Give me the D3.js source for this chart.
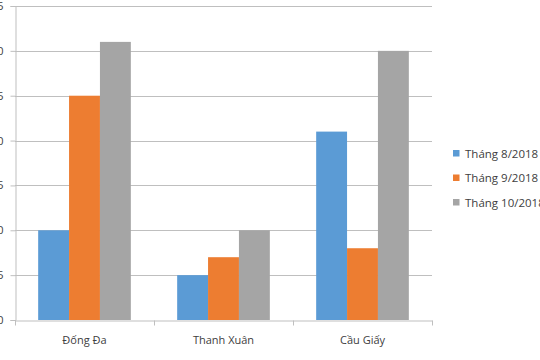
<!DOCTYPE html>
<html>
<head>
<meta charset="utf-8">
<script src="https://cdn.jsdelivr.net/npm/d3@7"></script>
<style>
html,body{margin:0;padding:0;background:#fff;}
svg{display:block;}
text{font-family:"Open Sans",sans-serif;fill:#404040;}
</style>
</head>
<body>
<svg id="chart" width="540" height="360"></svg>
<script>
const categories = ["Đống Đa", "Thanh Xuân", "Cầu Giấy"];
const seriesNames = ["Tháng 8/2018", "Tháng 9/2018", "Tháng 10/2018"];
const thang8 = [10, 5, 21];
const thang9 = [25, 7, 8];
const thang10 = [31, 10, 30];
const yTicks = [0, 5, 10, 15, 20, 25, 30, 35];
const colors = ["#5b9bd5", "#ed7d31", "#a5a5a5"];

const seriesValues = [thang8, thang9, thang10];
const svg = d3.select("#chart");
const mLeft = 15, mRight = 432, mTop = 6, mBottom = 320;

const x = d3.scaleBand().domain(categories).range([mLeft, mRight]).paddingInner(0).paddingOuter(0);
const xs = d3.scaleBand().domain(seriesNames).range([0, x.bandwidth()]).paddingInner(0).paddingOuter(0.75);
const y = d3.scaleLinear().domain([0, 35]).range([mBottom, mTop]);

// gridlines
svg.append("g").selectAll("line").data(yTicks.filter(d => d > 0)).join("line")
  .attr("x1", mLeft).attr("x2", mRight)
  .attr("y1", d => Math.round(y(d)) + 0.5).attr("y2", d => Math.round(y(d)) + 0.5)
  .attr("stroke", "#bfbfbf").attr("stroke-width", 1);

// y axis
const yAxis = d3.axisLeft(y).tickValues(yTicks).tickSize(5).tickPadding(7);
const gy = svg.append("g").attr("transform", `translate(${mLeft + 0.5},0)`).call(yAxis);
gy.select(".domain").attr("stroke", "#bfbfbf");
gy.selectAll(".tick line").attr("stroke", "#bfbfbf");
gy.selectAll(".tick text").attr("font-size", 11).attr("fill", "#404040").attr("font-family", "Open Sans");

// bars
const groups = svg.append("g").selectAll("g").data(categories).join("g")
  .attr("transform", d => `translate(${x(d)},0)`);
groups.selectAll("rect").data((c, i) => seriesNames.map((s, j) => ({s, v: seriesValues[j][i], j})))
  .join("rect")
  .attr("x", d => xs(d.s))
  .attr("width", xs.bandwidth())
  .attr("y", d => y(d.v))
  .attr("height", d => y(0) - y(d.v))
  .attr("fill", d => colors[d.j]);

// x axis
const xAxis = d3.axisBottom(x).tickSize(0).tickPadding(16);
const gx = svg.append("g").attr("transform", `translate(0,${mBottom + 0.5})`).call(xAxis);
gx.select(".domain").attr("stroke", "#bfbfbf");
gx.selectAll(".tick text").attr("font-size", 11).attr("fill", "#404040").attr("font-family", "Open Sans");
// boundary tick marks
const boundaries = categories.map(c => x(c)).concat([x(categories[categories.length - 1]) + x.bandwidth()]);
gx.selectAll(".bnd").data(boundaries).join("line").attr("class", "bnd")
  .attr("x1", d => Math.round(d) + 0.5).attr("x2", d => Math.round(d) + 0.5)
  .attr("y1", 0).attr("y2", 5).attr("stroke", "#bfbfbf");

// legend
const lg = svg.append("g").attr("transform", "translate(453,150)");
const items = lg.selectAll("g").data(seriesNames).join("g")
  .attr("transform", (d, i) => `translate(0,${i * 24.5})`);
items.append("rect").attr("width", 6.5).attr("height", 6.5).attr("fill", (d, i) => colors[i]);
items.append("text").attr("x", 12).attr("y", 3.5).attr("dy", "0.35em")
  .attr("font-size", 11.5).text(d => d);
</script>
</body>
</html>
